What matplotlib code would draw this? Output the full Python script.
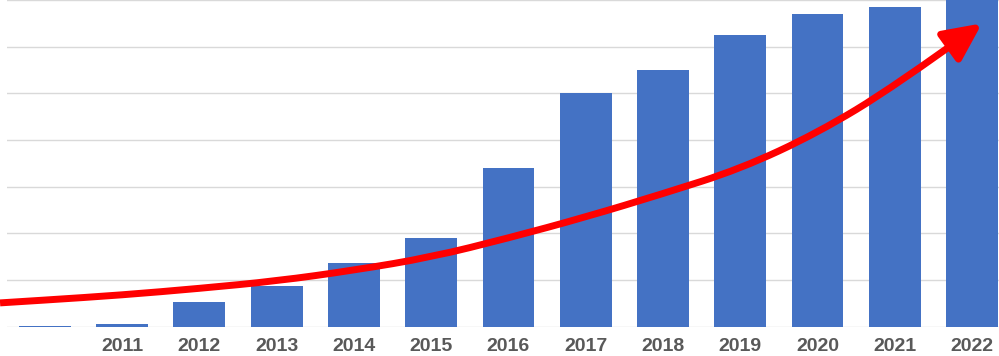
import matplotlib
matplotlib.use("Agg")
import matplotlib.pyplot as plt
from matplotlib.patches import FancyArrowPatch
from matplotlib.path import Path

# valores en unidades de cuadrícula
etiquetas = ["", "2011", "2012", "2013", "2014", "2015", "2016",
             "2017", "2018", "2019", "2020", "2021", "2022"]
valores = [0.02, 0.05, 0.52, 0.88, 1.37, 1.89, 3.39,
           5.0, 5.49, 6.24, 6.70, 6.85, 7.2]

# flecha de tendencia
tend_pos = [-0.58, 0, 1, 2, 3, 4, 5, 6, 7, 8, 9, 10, 11, 12.13]
tend_val = [0.51, 0.57, 0.68, 0.82, 0.98, 1.21, 1.49, 1.90,
            2.35, 2.85, 3.38, 4.15, 5.15, 6.50]

plt.rcParams["font.family"] = ["Liberation Sans", "DejaVu Sans"]

fig = plt.figure(figsize=(9.99, 3.56), dpi=100)
ax = fig.add_axes([7 / 999, 0.0823, 992 / 999, 0.9177])

x = list(range(len(valores)))
ax.bar(x, valores, width=0.67, color="#4472C4", zorder=2)

ax.set_xlim(-0.49, 12.35)
ax.set_ylim(0, 7.0)
ax.set_yticks(range(0, 8))
ax.set_yticklabels([])
ax.grid(axis="y", color="#d9d9d9", linewidth=1, zorder=0)
ax.set_xticks(x)
ax.set_xticklabels(etiquetas, fontsize=14, fontweight="bold", color="#595959")
ax.tick_params(axis="both", length=0, pad=8)
for s in ax.spines.values():
    s.set_visible(False)

# curva suave: bezier cuadrática por los puntos medios
pts = list(zip(tend_pos, tend_val))
verts = [pts[0]]
codes = [Path.MOVETO]
for i in range(1, len(pts) - 1):
    medio = ((pts[i][0] + pts[i + 1][0]) / 2, (pts[i][1] + pts[i + 1][1]) / 2)
    if i == len(pts) - 2:
        medio = pts[-1]
    verts += [pts[i], medio]
    codes += [Path.CURVE3, Path.CURVE3]

flecha = FancyArrowPatch(
    path=Path(verts, codes),
    arrowstyle="-|>,head_length=23,head_width=11",
    color="#ff0000", linewidth=5, joinstyle="round", capstyle="butt",
    transform=ax.transData, clip_on=False, zorder=5,
)
ax.add_patch(flecha)

fig.savefig("out.png", dpi=100)
